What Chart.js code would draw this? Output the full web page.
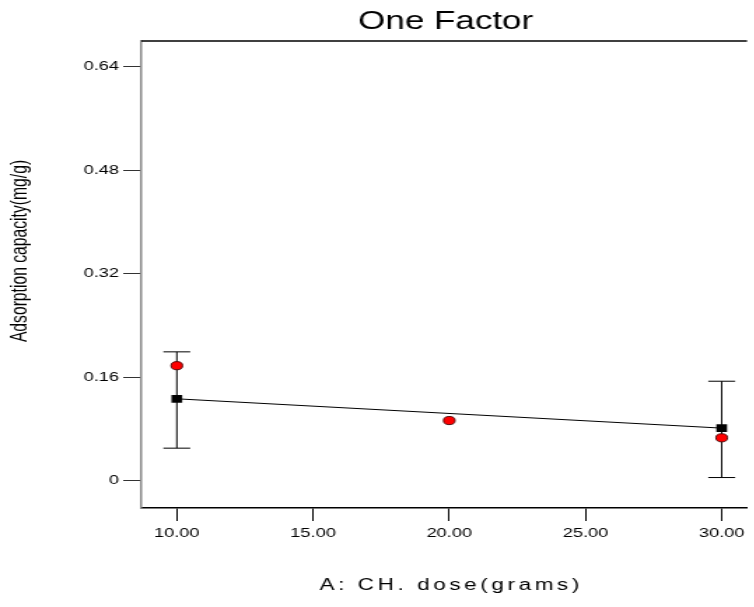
<!DOCTYPE html>
<html>
<head>
<meta charset="utf-8">
<script src="https://cdn.jsdelivr.net/npm/chart.js@4.4.1/dist/chart.umd.min.js"></script>
<style>
  html, body { margin: 0; padding: 0; background: #fff; overflow: hidden; }
  #wrap { width: 754px; height: 607px; overflow: hidden; }
  /* the original picture is stretched sideways, so draw narrow and stretch */
  #chart { transform: scaleX(1.4); transform-origin: 0 0; }
</style>
</head>
<body>
<div id="wrap"><canvas id="chart" width="539" height="607"></canvas></div>
<script>
// dose levels (grams) and measured adsorption capacity
const doseLevels = [10, 20, 30];
const observed = [0.178, 0.0932, 0.0665];

// model prediction at the ends of the range, with interval bars
const predictedDose = [10, 30];
const predicted = [0.1268, 0.0815];
const ciLow = [0.0505, 0.0051];
const ciHigh = [0.1994, 0.154];

const xTicks = [10, 15, 20, 25, 30];
const yTicks = [0, 0.16, 0.32, 0.48, 0.64];

const font = "'Liberation Sans', Arial, sans-serif";

const toPoints = (xs, ys) => xs.map((v, i) => ({ x: v, y: ys[i] }));

const extras = {
  id: "extras",
  beforeDatasetsDraw(chart) {
    const { ctx, scales: { x, y } } = chart;
    const cap = 9.6;
    ctx.save();
    ctx.strokeStyle = "#000";
    ctx.lineWidth = 1;
    predictedDose.forEach((d, i) => {
      const px = x.getPixelForValue(d);
      const top = y.getPixelForValue(ciHigh[i]);
      const bot = y.getPixelForValue(ciLow[i]);
      ctx.beginPath();
      ctx.moveTo(px, top);
      ctx.lineTo(px, bot);
      ctx.moveTo(px - cap, top);
      ctx.lineTo(px + cap, top);
      ctx.moveTo(px - cap, bot);
      ctx.lineTo(px + cap, bot);
      ctx.stroke();
    });
    ctx.restore();
  },
  afterDraw(chart) {
    const { ctx, chartArea } = chart;
    const mid = (chartArea.left + chartArea.right) / 2;
    ctx.save();
    // top frame line
    ctx.strokeStyle = "#000";
    ctx.lineWidth = 1.5;
    ctx.beginPath();
    ctx.moveTo(chartArea.left, chartArea.top);
    ctx.lineTo(chartArea.right, chartArea.top);
    ctx.stroke();

    ctx.fillStyle = "#000";
    ctx.textAlign = "center";
    ctx.textBaseline = "alphabetic";
    ctx.font = "25px " + font;
    ctx.fillText("One Factor", mid + 1, 29);

    ctx.font = "16px " + font;
    ctx.letterSpacing = "2.6px";
    ctx.fillText("A: CH. dose(grams)", mid + 5, 590);
    ctx.letterSpacing = "0px";

    ctx.translate(14.5, 251);
    ctx.rotate(-Math.PI / 2);
    ctx.textBaseline = "middle";
    ctx.font = "15.7px " + font;
    ctx.fillText("Adsorption capacity(mg/g)", 0, 0);
    ctx.restore();
  }
};

new Chart(document.getElementById("chart"), {
  type: "scatter",
  data: {
    datasets: [
      {
        data: toPoints(predictedDose, predicted),
        showLine: true,
        borderColor: "#000",
        borderWidth: 1,
        pointRadius: 0
      },
      {
        data: toPoints(predictedDose, predicted),
        pointStyle: "rect",
        pointRadius: 5.4,
        backgroundColor: "#000",
        borderColor: "#000",
        borderWidth: 0
      },
      {
        data: toPoints(doseLevels, observed),
        pointStyle: "circle",
        pointRadius: 4.1,
        backgroundColor: "#ff0000",
        borderColor: "#400",
        borderWidth: 0.9
      }
    ]
  },
  options: {
    responsive: false,
    animation: false,
    devicePixelRatio: 1,
    layout: { padding: { top: 41, left: 0, right: 0, bottom: 0 } },
    plugins: {
      legend: { display: false },
      tooltip: { enabled: false }
    },
    scales: {
      x: {
        type: "linear",
        min: 8.7,
        max: 30.93,
        afterBuildTicks: (s) => { s.ticks = xTicks.map((v) => ({ value: v })); },
        afterFit: (s) => { s.height = 99; },
        ticks: {
          autoSkip: false,
          maxRotation: 0,
          padding: 5,
          color: "#000",
          font: { family: font, size: 13 },
          callback: (v) => Number(v).toFixed(2)
        },
        grid: { drawOnChartArea: false, drawTicks: true, tickLength: 13, color: "#000", lineWidth: 1 },
        border: { color: "#000", width: 1.5 }
      },
      y: {
        min: -0.042,
        max: 0.68,
        afterBuildTicks: (s) => { s.ticks = yTicks.map((v) => ({ value: v })); },
        afterFit: (s) => { s.width = 101; },
        ticks: {
          autoSkip: false,
          padding: 3,
          color: "#000",
          font: { family: font, size: 13 },
          callback: (v) => (v === 0 ? "0" : Number(v).toFixed(2))
        },
        grid: { drawOnChartArea: false, drawTicks: true, tickLength: 13, color: "#333", lineWidth: 1 },
        border: { color: "#888", width: 1.5 }
      }
    }
  },
  plugins: [extras]
});
</script>
</body>
</html>
